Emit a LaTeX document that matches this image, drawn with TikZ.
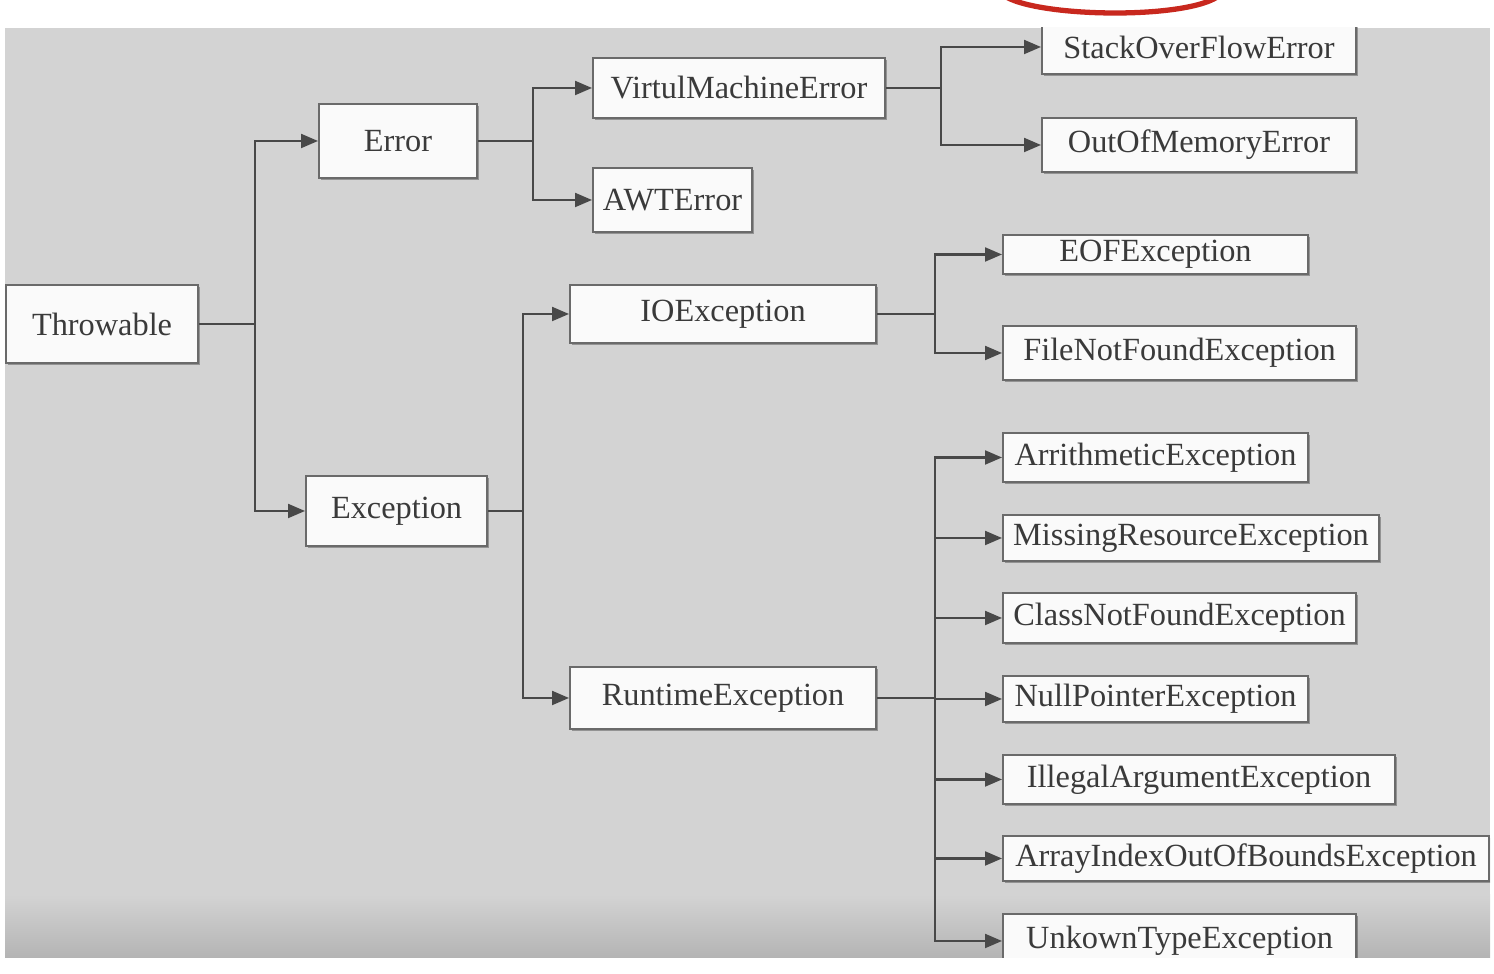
\documentclass[tikz,border=0pt]{standalone}
\usepackage{fontspec}
\setmainfont{Liberation Serif}
\usetikzlibrary{arrows.meta,shadows}
\definecolor{bggray}{HTML}{D3D3D3}
\definecolor{bgdark}{HTML}{B4B4B4}
\definecolor{boxline}{HTML}{6A6A6A}
\definecolor{wire}{HTML}{484848}
\definecolor{txt}{HTML}{3A3A3A}
\definecolor{penred}{HTML}{C8281E}
\tikzset{
  cls/.style={draw=boxline, line width=0.6pt, fill=white!96!gray, anchor=west,
    inner sep=0pt, text=txt, font=\fontsize{9.2}{11}\selectfont,
    drop shadow={shadow xshift=0.5pt, shadow yshift=-0.6pt, opacity=0.3, fill=black}},
  conn/.style={draw=wire, line width=0.6pt, -{Triangle[length=1.7mm,width=1.4mm]}}
}
\begin{document}
\begin{tikzpicture}
\useasboundingbox (0,0) rectangle (14.94,-9.74);
% pen mark on the top edge
\draw[penred, line width=1.5pt] (10.03,0.05) .. controls (10.35,-0.18) and (11.9,-0.2) .. (12.2,0.05);
\begin{scope}
  \clip (0.05,-0.28) rectangle (14.90,-9.58);
  \fill[bggray] (0.05,-0.28) rectangle (14.90,-9.58);
  \shade[top color=bggray, bottom color=bgdark] (0.05,-8.95) rectangle (14.90,-9.58);
  % classes
  \node[cls, minimum width=1.92cm, minimum height=0.78cm] (thr) at (0.05,-3.24) {Throwable};
  \node[cls, minimum width=1.58cm, minimum height=0.74cm] (err) at (3.18,-1.41) {Error};
  \node[cls, minimum width=1.81cm, minimum height=0.70cm] (exc) at (3.05,-5.11) {Exception};
  \node[cls, minimum width=2.92cm, minimum height=0.60cm] (vme) at (5.92,-0.88) {VirtulMachineError};
  \node[cls, minimum width=1.59cm, minimum height=0.64cm] (awt) at (5.92,-2.00) {AWTError};
  \node[cls, minimum width=3.06cm, minimum height=0.58cm] (ioe) at (5.69,-3.14) {IOException};
  \node[cls, minimum width=3.06cm, minimum height=0.62cm] (rte) at (5.69,-6.98) {RuntimeException};
  \node[cls, minimum width=3.14cm, minimum height=0.54cm] (sof) at (10.41,-0.47) {StackOverFlowError};
  \node[cls, minimum width=3.14cm, minimum height=0.54cm] (oom) at (10.41,-1.45) {OutOfMemoryError};
  \node[cls, minimum width=3.05cm, minimum height=0.39cm] (eof) at (10.02,-2.545) {EOFException};
  \node[cls, minimum width=3.53cm, minimum height=0.54cm] (fnf) at (10.02,-3.53) {FileNotFoundException};
  \node[cls, minimum width=3.05cm, minimum height=0.49cm] (ari) at (10.02,-4.575) {ArrithmeticException};
  \node[cls, minimum width=3.76cm, minimum height=0.46cm] (mre) at (10.02,-5.38) {MissingResourceException};
  \node[cls, minimum width=3.53cm, minimum height=0.50cm] (cnf) at (10.02,-6.18) {ClassNotFoundException};
  \node[cls, minimum width=3.05cm, minimum height=0.46cm] (npe) at (10.02,-6.99) {NullPointerException};
  \node[cls, minimum width=3.92cm, minimum height=0.49cm] (iae) at (10.02,-7.795) {IllegalArgumentException};
  \node[cls, minimum width=4.86cm, minimum height=0.45cm] (aio) at (10.02,-8.585) {ArrayIndexOutOfBoundsException};
  \node[cls, minimum width=3.53cm, minimum height=0.54cm] (ute) at (10.02,-9.41) {UnkownTypeException};
  % trunks
  \coordinate (t1) at (2.55,-3.24);
  \coordinate (t2) at (5.33,-1.41);
  \coordinate (t3) at (9.41,-0.88);
  \coordinate (t4) at (5.23,-5.11);
  \coordinate (t5) at (9.35,-3.14);
  \coordinate (t6) at (9.35,-6.98);
  % connectors
  \draw[conn] (thr) -- (t1) |- (err);
  \draw[conn] (thr) -- (t1) |- (exc);
  \draw[conn] (err) -- (t2) |- (vme);
  \draw[conn] (err) -- (t2) |- (awt);
  \draw[conn] (vme) -- (t3) |- (sof);
  \draw[conn] (vme) -- (t3) |- (oom);
  \draw[conn] (exc) -- (t4) |- (ioe);
  \draw[conn] (exc) -- (t4) |- (rte);
  \draw[conn] (ioe) -- (t5) |- (eof);
  \draw[conn] (ioe) -- (t5) |- (fnf);
  \foreach \n in {ari,mre,cnf,npe,iae,aio,ute}
    \draw[conn] (rte) -- (t6) |- (\n);
\end{scope}
\end{tikzpicture}
\end{document}
